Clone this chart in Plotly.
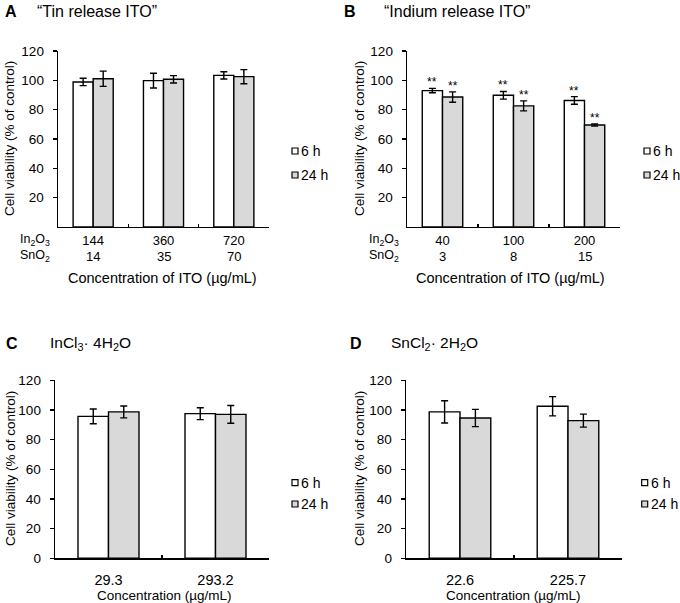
import plotly.graph_objects as go

W, H = 680, 603
FONT = "Arial, Liberation Sans, Helvetica, sans-serif"

# ---------------- data ----------------
a_cats = ["144", "360", "720"]
a_sno2 = ["14", "35", "70"]
a_6h = [98.9, 99.8, 103.4]
a_6h_err = [2.5, 5.0, 2.5]
a_24h = [101.1, 100.7, 102.5]
a_24h_err = [5.2, 2.5, 4.8]

b_cats = ["40", "100", "200"]
b_sno2 = ["3", "8", "15"]
b_6h = [93.0, 89.8, 86.3]
b_6h_err = [1.5, 2.6, 2.6]
b_24h = [88.6, 82.6, 69.5]
b_24h_err = [3.5, 3.4, 0.7]

c_cats = ["29.3", "293.2"]
c_6h = [95.7, 97.5]
c_6h_err = [5.0, 4.0]
c_24h = [98.7, 97.0]
c_24h_err = [4.0, 6.0]

d_cats = ["22.6", "225.7"]
d_6h = [98.7, 102.5]
d_6h_err = [7.5, 6.5]
d_24h = [94.6, 92.8]
d_24h_err = [5.8, 4.4]

series_names = ["6 h", "24 h"]
fill_colors = ["#ffffff", "#d9d9d9"]


def px(x):
    return x / W


def py(y):
    return 1 - y / H


fig = go.Figure()

panels = [
    ("", a_cats, a_6h, a_6h_err, a_24h, a_24h_err, (58, 269), (51, 227)),
    ("2", b_cats, b_6h, b_6h_err, b_24h, b_24h_err, (407, 620), (51, 227)),
    ("3", c_cats, c_6h, c_6h_err, c_24h, c_24h_err, (55, 269), (380.3, 558.3)),
    ("4", d_cats, d_6h, d_6h_err, d_24h, d_24h_err, (406, 622), (380.3, 558.3)),
]

for k, (sfx, cats, s6, e6, s24, e24, xd, yd) in enumerate(panels):
    for i, (vals, errs) in enumerate([(s6, e6), (s24, e24)]):
        fig.add_trace(go.Bar(
            x=cats, y=vals, name=series_names[i],
            xaxis="x" + sfx, yaxis="y" + sfx,
            offsetgroup=str(i),
            marker=dict(color=fill_colors[i], line=dict(color="#000000", width=1.4)),
            error_y=dict(type="data", array=errs, color="#000000", thickness=1.4, width=3.5),
            showlegend=False, hoverinfo="skip",
        ))
    xa = dict(
        domain=[px(xd[0]), px(xd[1])], anchor="y" + sfx, automargin=False,
        type="category", categoryorder="array", categoryarray=cats,
        showline=True, linecolor="#000000", linewidth=1.4,
        ticks="inside", tickson="boundaries", ticklen=3, tickwidth=1.4, tickcolor="#000000",
        showgrid=False, zeroline=False,
        tickfont=dict(family=FONT, size=13 if k < 2 else 14.5, color="#000000"),
        ticklabelstandoff=1 if k < 2 else 8,
        range=[-0.5, len(cats) - 0.5], fixedrange=True,
    )
    ya = dict(
        domain=[py(yd[1]), py(yd[0])], anchor="x" + sfx, automargin=False,
        range=[0, 120], fixedrange=True,
        tickvals=[20, 40, 60, 80, 100, 120] if k < 2 else [0, 20, 40, 60, 80, 100, 120],
        showline=True, linecolor="#000000", linewidth=1.4,
        ticks="outside", ticklen=4, tickwidth=1.4, tickcolor="#000000",
        showgrid=False, zeroline=False, ticklabelstandoff=6,
        tickfont=dict(family=FONT, size=13.5, color="#000000"),
    )
    fig.layout["xaxis" + sfx] = xa
    fig.layout["yaxis" + sfx] = ya

annotations = []
shapes = []


def txt(x, y, text, size, xanchor="left", yanchor="middle", bold=False, angle=0):
    annotations.append(dict(
        x=px(x), y=py(y), xref="paper", yref="paper",
        text=("<b>%s</b>" % text) if bold else text,
        showarrow=False, xanchor=xanchor, yanchor=yanchor, textangle=angle,
        font=dict(family=FONT, size=size, color="#000000"),
    ))


# Panel titles
txt(3, 11, "A", 16, bold=True)
txt(35, 11, "“Tin release ITO”", 16)
txt(342, 11, "B", 16, bold=True)
txt(382, 11, "“Indium release ITO”", 16)
txt(4, 343, "C", 16, bold=True)
txt(48, 343, "InCl<sub>3</sub>· 4H<sub>2</sub>O", 15.5)
txt(348, 343, "D", 16, bold=True)
txt(389, 343, "SnCl<sub>2</sub>· 2H<sub>2</sub>O", 15.5)

# y-axis titles
for xc, yc in [(10, 139), (360, 139), (10, 469), (359, 469)]:
    txt(xc, yc, "Cell viability (% of control)", 13.5, xanchor="center", angle=-90)

# x-axis titles
txt(162.5, 278, "Concentration of ITO (µg/mL)", 14.5, xanchor="center")
txt(510.5, 278, "Concentration of ITO (µg/mL)", 14.5, xanchor="center")
txt(164.5, 595, "Concentration (µg/mL)", 13.5, xanchor="center")
txt(513.5, 595, "Concentration (µg/mL)", 13.5, xanchor="center")

# row labels for ITO panels
for x0 in (52, 401):
    txt(x0, 240, "In<sub>2</sub>O<sub>3</sub>", 12.5, xanchor="right")
    txt(x0, 256, "SnO<sub>2</sub>", 12.5, xanchor="right")

# SnO2 second row values under categories
for sfx, vals in [("", a_sno2), ("2", b_sno2)]:
    for j, v in enumerate(vals):
        annotations.append(dict(
            x=j, y=py(256), xref="x" + sfx, yref="paper", text=v, showarrow=False,
            xanchor="center", yanchor="middle",
            font=dict(family=FONT, size=13, color="#000000"),
        ))

# significance stars for panel B
half = (1 - 0.43) / 4
for i, (vals, errs) in enumerate([(b_6h, b_6h_err), (b_24h, b_24h_err)]):
    off = -half if i == 0 else half
    for j in range(len(b_cats)):
        annotations.append(dict(
            x=j + off, y=vals[j] + errs[j], xref="x2", yref="y2", text="**",
            showarrow=False, xanchor="center", yanchor="bottom", yshift=-3,
            font=dict(family=FONT, size=12, color="#000000"),
        ))

# legends
for sx, ys in [(292, (151, 175)), (644, (151, 175)), (292, (482.7, 504)), (641.7, (482.7, 504))]:
    for i, yc in enumerate(ys):
        shapes.append(dict(
            type="rect", xref="paper", yref="paper",
            x0=px(sx), x1=px(sx + 6), y0=py(yc + 3), y1=py(yc - 3),
            fillcolor=fill_colors[i], line=dict(color="#000000", width=1.2),
        ))
        txt(sx + 7, yc, series_names[i], 14)

fig.update_layout(
    width=W, height=H,
    margin=dict(l=0, r=0, t=0, b=0, pad=0, autoexpand=False),
    paper_bgcolor="#ffffff", plot_bgcolor="#ffffff",
    barmode="group", bargap=0.43, bargroupgap=0,
    annotations=annotations, shapes=shapes,
    font=dict(family=FONT, color="#000000"),
    showlegend=False, hovermode=False,
)

# remove the browser's default 8px body margin so the 680x603 figure fills the window
fig.write_html(
    "out.html",
    config={"displayModeBar": False, "staticPlot": True},
    post_script="document.body.style.margin='0';document.body.style.overflow='hidden';",
)
